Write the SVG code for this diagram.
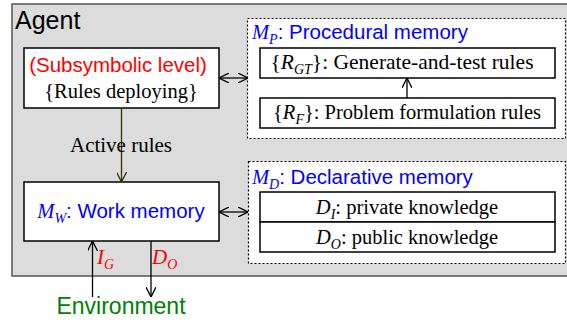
<svg xmlns="http://www.w3.org/2000/svg" width="567" height="324" viewBox="0 0 567 324">
<defs>
<marker id="ah" viewBox="0 0 10 10" refX="10" refY="5" markerWidth="10" markerHeight="10" markerUnits="userSpaceOnUse" orient="auto-start-reverse">
<path d="M0,0 L10,5 L0,10" fill="none" stroke="#000" stroke-width="1.3"/>
</marker>
<marker id="ahg" viewBox="0 0 10 10" refX="10" refY="5" markerWidth="10" markerHeight="10" markerUnits="userSpaceOnUse" orient="auto">
<path d="M0,0 L10,5 L0,10" fill="none" stroke="#333300" stroke-width="1.3"/>
</marker>
</defs>
<style>
.box{fill:#fff;stroke:#000;stroke-width:1.5}
.dash{fill:#fff;stroke:#000;stroke-width:1.2;stroke-dasharray:2,2}
.sans{font-family:"Liberation Sans",Arial,sans-serif}
.serif{font-family:"Liberation Serif","Times New Roman",serif}
.it{font-style:italic}
.blue{fill:#0000ff}
.red{fill:#ff0000}
.line{stroke:#000;stroke-width:1.3;fill:none}
</style>
<rect width="567" height="324" fill="#fff"/>
<g id="agent">
<rect x="12" y="4" width="565" height="272" fill="#dcdcdc" stroke="#555" stroke-width="1.5"/>
<text x="15" y="29" class="sans" font-size="25">Agent</text>
</g>
<g id="subsymbolic">
<rect class="box" x="24" y="48" width="195" height="60"/>
<text x="118" y="72" class="sans red" font-size="20.5" text-anchor="middle">(Subsymbolic level)</text>
<text x="121" y="98" class="serif" font-size="20.5" text-anchor="middle">{Rules deploying}</text>
</g>
<g id="procedural">
<rect class="dash" x="247.5" y="18.5" width="318" height="120"/>
<text x="252" y="39" class="blue" font-size="20.5"><tspan class="serif it">M</tspan><tspan class="serif it" font-size="14" dy="5">P</tspan><tspan class="sans" dy="-5">: Procedural memory</tspan></text>
</g>
<g id="rgt">
<rect class="box" x="260" y="48" width="295" height="30"/>
<text x="402" y="69" class="serif" font-size="21.5" text-anchor="middle">{<tspan class="it">R</tspan><tspan class="it" font-size="14" dy="5">GT</tspan><tspan dy="-5">}: Generate-and-test rules</tspan></text>
</g>
<g id="rf">
<rect class="box" x="260" y="98" width="295" height="30"/>
<text x="407" y="119" class="serif" font-size="20.5" text-anchor="middle">{<tspan class="it">R</tspan><tspan class="it" font-size="14" dy="5">F</tspan><tspan dy="-5">}: Problem formulation rules</tspan></text>
</g>
<g id="work">
<rect class="box" x="24" y="182" width="195" height="59"/>
<text x="121" y="218" class="blue" font-size="20.5" text-anchor="middle"><tspan class="serif it">M</tspan><tspan class="serif it" font-size="14" dy="5">W</tspan><tspan class="sans" dy="-5">: Work memory</tspan></text>
</g>
<g id="declarative">
<rect class="dash" x="248.5" y="161.5" width="317" height="102"/>
<text x="252" y="184" class="blue" font-size="20.5"><tspan class="serif it">M</tspan><tspan class="serif it" font-size="14" dy="5">D</tspan><tspan class="sans" dy="-5">: Declarative memory</tspan></text>
</g>
<g id="di">
<rect class="box" x="260" y="192" width="295" height="30"/>
<text x="407" y="214" class="serif" font-size="20.5" text-anchor="middle"><tspan class="it">D</tspan><tspan class="it" font-size="14" dy="5">I</tspan><tspan dy="-5">: private knowledge</tspan></text>
</g>
<g id="do">
<rect class="box" x="260" y="222" width="295" height="30"/>
<text x="407" y="244" class="serif" font-size="20.5" text-anchor="middle"><tspan class="it">D</tspan><tspan class="it" font-size="14" dy="5">O</tspan><tspan dy="-5">: public knowledge</tspan></text>
</g>
<g id="environment">
<text x="121" y="314" class="sans" font-size="23" fill="#008000" text-anchor="middle">Environment</text>
</g>
<g id="connectors">
<line class="line" x1="219" y1="78" x2="248" y2="78" marker-start="url(#ah)" marker-end="url(#ah)"/>
<line class="line" x1="407" y1="98" x2="407" y2="78" marker-end="url(#ah)"/>
<line x1="121.5" y1="108" x2="121.5" y2="182" stroke="#333300" stroke-width="1.3" marker-end="url(#ahg)"/>
<text x="121" y="152" class="serif" font-size="21" text-anchor="middle">Active rules</text>
<line class="line" x1="219" y1="212" x2="248" y2="212" marker-start="url(#ah)" marker-end="url(#ah)"/>
<line class="line" x1="92.5" y1="297" x2="92.5" y2="241" marker-end="url(#ah)"/>
<line class="line" x1="151" y1="241" x2="151" y2="297" marker-end="url(#ah)"/>
<text x="97" y="264" class="serif it red" font-size="21">I<tspan font-size="14" dy="5">G</tspan></text>
<text x="152" y="264" class="serif it red" font-size="21">D<tspan font-size="14" dy="5">O</tspan></text>
</g>
</svg>
